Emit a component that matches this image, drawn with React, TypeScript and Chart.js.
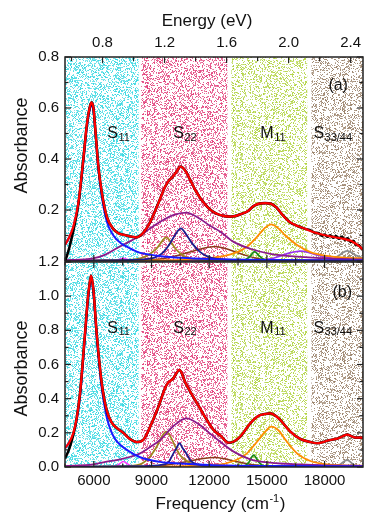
import React, { useEffect, useRef } from "react";
import { Chart, registerables } from "chart.js";
Chart.register(...registerables);

const FONT = '"Liberation Sans", Arial, Helvetica, sans-serif';

// ---------- axes ----------
const FREQ_MIN = 4500;
const FREQ_MAX = 20000;
const CM_PER_EV = 8065.54;
const freqTickLabels = [6000, 9000, 12000, 15000, 18000];
const energyTickLabels = [0.8, 1.2, 1.6, 2.0, 2.4];
const absTickLabelsA = [0.2, 0.4, 0.6, 0.8];
const absTickLabelsB = [0.0, 0.2, 0.4, 0.6, 0.8, 1.0, 1.2];

// ---------- spectral regions ----------
const regionFrom = [4500, 8460, 13150, 17320];
const regionTo = [8330, 12950, 17100, 20000];
const regionMain = ["S", "S", "M", "S"];
const regionSub = ["11", "22", "11", "33/44"];
const regionLabelFreq = [6700, 10130, 14660, 17420];

// ---------- panel (a) ----------
const aFitF = [4500, 4700, 4935, 5200, 5455, 5630, 5780, 5880, 5980, 6063, 6236, 6412, 6673, 7017, 7300, 7600, 7900, 8200, 8500, 8800, 9100, 9400, 9700, 9900, 10100, 10300, 10500, 10700, 11000, 11300, 11600, 12000, 12400, 12800, 13100, 13400, 13700, 14000, 14300, 14600, 14900, 15200, 15500, 15800, 16200, 16600, 17000, 17400, 17800, 18200, 18600, 19000, 19400, 19800, 20000];
const aFitA = [0.063, 0.09, 0.135, 0.23, 0.40, 0.53, 0.60, 0.622, 0.60, 0.53, 0.37, 0.27, 0.174, 0.125, 0.108, 0.102, 0.096, 0.093, 0.105, 0.135, 0.18, 0.235, 0.29, 0.315, 0.33, 0.35, 0.37, 0.36, 0.32, 0.275, 0.24, 0.205, 0.185, 0.176, 0.174, 0.177, 0.185, 0.195, 0.215, 0.225, 0.227, 0.225, 0.21, 0.182, 0.152, 0.137, 0.126, 0.114, 0.105, 0.098, 0.092, 0.087, 0.078, 0.058, 0.045];
const aMeasF = [4500, 4600, 4750, 4935, 5200, 5455, 5630, 5780, 5880, 5980, 6063, 6236, 6412, 6673, 7017, 7300, 7600, 7900, 8200, 8500, 8800, 9100, 9400, 9700, 9900, 10100, 10300, 10500, 10700, 11000, 11300, 11600, 12000, 12400, 12800, 13100, 13400, 13700, 14000, 14300, 14600, 14900, 15200, 15500, 15800, 16200, 16600, 17000, 17300, 17500, 17700, 17850, 18000, 18150, 18300, 18450, 18600, 18750, 18900, 19050, 19200, 19350, 19500, 19650, 19800, 19900, 20000];
const aMeasA = [0.0, 0.02, 0.06, 0.12, 0.225, 0.40, 0.53, 0.60, 0.622, 0.60, 0.53, 0.37, 0.27, 0.174, 0.125, 0.108, 0.102, 0.096, 0.093, 0.105, 0.135, 0.18, 0.235, 0.29, 0.315, 0.33, 0.35, 0.37, 0.36, 0.32, 0.275, 0.24, 0.205, 0.185, 0.176, 0.174, 0.177, 0.185, 0.195, 0.215, 0.225, 0.227, 0.225, 0.21, 0.182, 0.152, 0.137, 0.126, 0.119, 0.111, 0.109, 0.099, 0.104, 0.095, 0.101, 0.091, 0.098, 0.087, 0.095, 0.084, 0.089, 0.075, 0.079, 0.063, 0.062, 0.05, 0.045];
const aS11F = [4500, 4700, 4935, 5200, 5455, 5630, 5780, 5880, 5980, 6063, 6236, 6412, 6673, 7017, 7400, 7713, 8000, 8408, 9000, 9500, 10500, 12000, 14000, 17000, 20000];
const aS11A = [0.063, 0.09, 0.133, 0.225, 0.39, 0.52, 0.59, 0.612, 0.59, 0.52, 0.36, 0.255, 0.155, 0.10, 0.07, 0.056, 0.045, 0.032, 0.024, 0.019, 0.013, 0.008, 0.005, 0.003, 0.002];
const aBroadF = [4500, 5960, 6600, 7190, 7800, 8408, 8900, 9450, 10127, 10800, 11534, 12000, 12575, 13270, 14140, 15180, 16743, 18000, 20000];
const aBroadA = [0.003, 0.01, 0.025, 0.05, 0.074, 0.10, 0.126, 0.154, 0.18, 0.19, 0.165, 0.14, 0.115, 0.075, 0.048, 0.028, 0.016, 0.01, 0.006];
const aNarrowF = [4500, 8000, 9000, 9300, 9620, 9970, 10250, 10527, 10800, 11100, 11534, 12000, 12800, 14000, 20000];
const aNarrowA = [0.002, 0.004, 0.01, 0.018, 0.035, 0.07, 0.105, 0.128, 0.105, 0.07, 0.035, 0.015, 0.006, 0.003, 0.001];
const aOliveF = [4500, 7500, 8400, 8756, 9050, 9277, 9520, 9762, 10000, 10231, 10450, 10665, 11100, 12000, 20000];
const aOliveA = [0.001, 0.003, 0.01, 0.02, 0.035, 0.05, 0.075, 0.093, 0.075, 0.05, 0.033, 0.02, 0.008, 0.003, 0.001];
const aMagF = [4500, 6500, 7100, 7350, 7540, 7750, 8000, 8500, 20000];
const aMagA = [0.002, 0.002, 0.003, 0.007, 0.011, 0.006, 0.003, 0.002, 0.002];
const aBrownF = [4500, 9000, 10000, 11000, 11700, 12300, 12800, 13300, 13900, 14500, 15200, 16000, 20000];
const aBrownA = [0.001, 0.005, 0.015, 0.035, 0.05, 0.057, 0.05, 0.037, 0.022, 0.01, 0.004, 0.002, 0.001];
const aM11F = [4500, 9000, 11000, 12400, 13270, 13965, 14487, 14900, 15233, 15600, 15960, 16570, 17265, 18130, 19000, 20000];
const aM11A = [0.001, 0.002, 0.005, 0.015, 0.03, 0.056, 0.095, 0.13, 0.144, 0.128, 0.10, 0.063, 0.035, 0.02, 0.013, 0.01];
const aGreenF = [12000, 13500, 13850, 14100, 14363, 14600, 14850, 15200, 17000];
const aGreenA = [0.001, 0.001, 0.004, 0.016, 0.037, 0.02, 0.006, 0.001, 0.001];
const aVioletF = [12000, 14500, 15200, 15700, 16200, 16743, 17200, 17612, 18300, 19000, 20000];
const aVioletA = [0.001, 0.002, 0.008, 0.02, 0.032, 0.039, 0.033, 0.024, 0.012, 0.005, 0.003];
const aPinkF = [16000, 17400, 17750, 18046, 18350, 18700, 20000];
const aPinkA = [0.001, 0.001, 0.006, 0.017, 0.006, 0.001, 0.001];
const aGrayF = [17000, 18300, 18720, 19175, 19700, 20000];
const aGrayA = [0.001, 0.002, 0.02, 0.04, 0.02, 0.012];

// ---------- panel (b) ----------
const bFitF = [4500, 4700, 4935, 5100, 5280, 5540, 5700, 5765, 5855, 5976, 6150, 6412, 6673, 6933, 7194, 7537, 7886, 8235, 8580, 8929, 9360, 9780, 10140, 10455, 10776, 11360, 11880, 12226, 12575, 13010, 13300, 13617, 14138, 14571, 14900, 15180, 15450, 15700, 16220, 16743, 17265, 17612, 17900, 18133, 18654, 18950, 19175, 19400, 19609, 20000];
const bFitA = [0.11, 0.14, 0.20, 0.28, 0.43, 0.78, 1.0, 1.06, 1.12, 1.04, 0.78, 0.49, 0.33, 0.26, 0.228, 0.20, 0.163, 0.146, 0.16, 0.236, 0.353, 0.48, 0.52, 0.568, 0.49, 0.375, 0.275, 0.217, 0.185, 0.142, 0.15, 0.178, 0.256, 0.30, 0.31, 0.314, 0.30, 0.275, 0.207, 0.164, 0.146, 0.139, 0.145, 0.154, 0.166, 0.18, 0.19, 0.18, 0.172, 0.172];
const bMeasA = [0.05, 0.10, 0.19, 0.28, 0.43, 0.78, 1.0, 1.06, 1.12, 1.04, 0.78, 0.49, 0.33, 0.26, 0.228, 0.20, 0.163, 0.146, 0.16, 0.236, 0.353, 0.48, 0.52, 0.568, 0.49, 0.375, 0.275, 0.217, 0.185, 0.142, 0.15, 0.178, 0.256, 0.30, 0.31, 0.314, 0.30, 0.275, 0.207, 0.164, 0.146, 0.139, 0.145, 0.154, 0.166, 0.18, 0.19, 0.18, 0.172, 0.172];
const bS11F = [4500, 4700, 4935, 5100, 5280, 5540, 5700, 5765, 5855, 5976, 6150, 6412, 6673, 6933, 7194, 7713, 8408, 9450, 10500, 12000, 15000, 20000];
const bS11A = [0.11, 0.14, 0.195, 0.27, 0.41, 0.76, 0.98, 1.04, 1.105, 1.02, 0.76, 0.46, 0.29, 0.2, 0.15, 0.10, 0.057, 0.03, 0.02, 0.012, 0.006, 0.003];
const bBroadF = [4500, 5960, 6600, 7366, 7900, 8408, 8900, 9450, 10140, 10804, 11534, 12000, 12575, 13270, 14140, 15180, 16743, 18000, 20000];
const bBroadA = [0.005, 0.015, 0.03, 0.045, 0.06, 0.08, 0.115, 0.158, 0.24, 0.285, 0.245, 0.2, 0.148, 0.09, 0.045, 0.025, 0.015, 0.01, 0.006];
const bNarrowF = [4500, 8500, 9500, 9900, 10140, 10300, 10455, 10620, 10804, 11050, 11400, 12000, 20000];
const bNarrowA = [0.002, 0.005, 0.012, 0.03, 0.08, 0.11, 0.139, 0.11, 0.08, 0.035, 0.015, 0.006, 0.002];
const bOliveF = [4500, 7500, 8400, 8842, 9050, 9277, 9520, 9762, 10000, 10231, 10450, 10665, 11100, 12000, 20000];
const bOliveA = [0.002, 0.005, 0.015, 0.05, 0.08, 0.12, 0.175, 0.207, 0.175, 0.12, 0.075, 0.05, 0.018, 0.005, 0.002];
const bMagF = [4500, 6500, 7100, 7350, 7540, 7750, 8000, 8500, 20000];
const bMagA = [0.002, 0.002, 0.005, 0.02, 0.032, 0.018, 0.005, 0.002, 0.002];
const bBrownF = [4500, 9000, 10000, 11000, 11700, 12300, 12800, 13300, 13900, 14500, 15200, 16000, 20000];
const bBrownA = [0.001, 0.005, 0.015, 0.035, 0.05, 0.055, 0.048, 0.035, 0.02, 0.01, 0.004, 0.002, 0.001];
const bM11F = [4500, 9000, 11000, 12400, 13270, 13965, 14487, 14900, 15233, 15600, 15960, 16570, 17265, 18130, 19000, 20000];
const bM11A = [0.001, 0.002, 0.006, 0.012, 0.035, 0.08, 0.148, 0.205, 0.236, 0.215, 0.16, 0.08, 0.035, 0.015, 0.01, 0.008];
const bGreenF = [12000, 13500, 13800, 14050, 14310, 14570, 14800, 15200, 17000];
const bGreenA = [0.001, 0.001, 0.005, 0.025, 0.07, 0.03, 0.008, 0.001, 0.001];
const bVioletF = [12000, 14500, 15500, 16500, 17200, 18000, 19000, 20000];
const bVioletA = [0.001, 0.002, 0.006, 0.012, 0.012, 0.008, 0.004, 0.003];
const bPinkF = [16000, 17600, 17900, 18100, 18300, 18600, 20000];
const bPinkA = [0.001, 0.001, 0.004, 0.01, 0.004, 0.001, 0.001];
const bGrayF = [17000, 18500, 18800, 19175, 19500, 19800, 20000];
const bGrayA = [0.001, 0.001, 0.015, 0.041, 0.015, 0.003, 0.001];

// ---------- styles ----------
const C = {
  fit: "#ff0000", meas: "#000000", s11: "#1a1aff", broad: "#8b1a8b", narrow: "#1c1c8c",
  olive: "#a08420", mag: "#ff33ff", brown: "#8b3a1a", m11: "#ff8c00", green: "#1a8a1a",
  violet: "#9933ee", pink: "#ff1a8c", gray: "#8c8c8c",
};
const bandStyle = [
  { rgb: [50, 215, 225], density: 0.38, seed: 11 },
  { rgb: [225, 60, 120], density: 0.35, seed: 23 },
  { rgb: [175, 210, 60], density: 0.31, seed: 37 },
  { rgb: [150, 125, 100], density: 0.31, seed: 51 },
];

function ds(f: number[], a: number[], color: string, width: number) {
  return {
    data: f.map((x, i) => ({ x, y: a[i] })),
    borderColor: color,
    borderWidth: width,
    pointRadius: 0,
    fill: false,
    cubicInterpolationMode: "monotone" as const,
    xAxisID: "x",
    yAxisID: "y",
  };
}

function makeSpeckle(ctx: CanvasRenderingContext2D, rgb: number[], density: number, seed: number) {
  const n = 128;
  const c = document.createElement("canvas");
  c.width = n; c.height = n;
  const g = c.getContext("2d")!;
  const img = g.createImageData(n, n);
  let s = seed >>> 0;
  for (let i = 0; i < n * n; i++) {
    s = (Math.imul(s, 1664525) + 1013904223) >>> 0;
    const r = s / 4294967296;
    const k = i * 4;
    if (r < density) {
      const t = 0.55 + 0.45 * ((s >>> 8) & 255) / 255;
      img.data[k] = Math.round(255 - (255 - rgb[0]) * t);
      img.data[k + 1] = Math.round(255 - (255 - rgb[1]) * t);
      img.data[k + 2] = Math.round(255 - (255 - rgb[2]) * t);
    } else {
      img.data[k] = 255; img.data[k + 1] = 255; img.data[k + 2] = 255;
    }
    img.data[k + 3] = 255;
  }
  g.putImageData(img, 0, 0);
  return ctx.createPattern(c, "repeat")!;
}

type PanelCfg = { panel: "a" | "b"; tag: string; tagF: number; tagA: number; labelA: number; offsetY: number };

function panelPlugin(cfg: PanelCfg) {
  let patterns: CanvasPattern[] | null = null;
  const line = (ctx: CanvasRenderingContext2D, x0: number, y0: number, x1: number, y1: number) => {
    ctx.beginPath(); ctx.moveTo(x0, y0); ctx.lineTo(x1, y1); ctx.stroke();
  };
  return {
    id: "panelDecor" + cfg.panel,
    beforeDatasetsDraw(chart: any) {
      const { ctx, chartArea: ca, scales } = chart;
      if (!patterns) patterns = bandStyle.map((b) => makeSpeckle(ctx, b.rgb, b.density, b.seed));
      ctx.save();
      ctx.fillStyle = "#fff";
      ctx.fillRect(ca.left, ca.top, ca.width, ca.height);
      regionFrom.forEach((f0, i) => {
        const x0 = scales.x.getPixelForValue(f0);
        const x1 = scales.x.getPixelForValue(regionTo[i]);
        ctx.fillStyle = patterns![i];
        ctx.fillRect(x0, ca.top, x1 - x0, ca.height);
      });
      ctx.restore();
    },
    afterDatasetsDraw(chart: any) {
      const { ctx, chartArea: ca, scales } = chart;
      const xs = scales.x, ys = scales.y;
      ctx.save();
      ctx.strokeStyle = "#222";
      ctx.lineWidth = 1.2;
      for (let f = FREQ_MIN; f <= FREQ_MAX; f += 1500) {
        const px = xs.getPixelForValue(f);
        const len = f % 3000 === 0 ? 6 : 3.5;
        line(ctx, px, ca.bottom, px, ca.bottom - len);
        if (cfg.panel === "b") line(ctx, px, ca.top, px, ca.top + len);
      }
      if (cfg.panel === "a") {
        const et = scales.xTop;
        for (let k = 3; k <= 12; k++) {
          const e = k * 0.2;
          const px = et.getPixelForValue(e);
          line(ctx, px, ca.top, px, ca.top + (k % 2 === 0 ? 6 : 4));
        }
      }
      const maxTick = Math.round(ys.max * 10);
      for (let k = 0; k <= maxTick; k++) {
        const py = ys.getPixelForValue(k / 10);
        const len = k % 2 === 0 ? 6 : 3.5;
        line(ctx, ca.left, py, ca.left + len, py);
        line(ctx, ca.right, py, ca.right - len, py);
      }
      ctx.lineWidth = 1.5;
      ctx.strokeRect(ca.left, ca.top, ca.width, ca.height);

      // region labels
      ctx.fillStyle = "#111";
      ctx.textBaseline = "alphabetic";
      ctx.textAlign = "left";
      regionMain.forEach((m, i) => {
        const x = xs.getPixelForValue(regionLabelFreq[i]);
        const y = ys.getPixelForValue(cfg.labelA);
        ctx.font = `16px ${FONT}`;
        ctx.fillText(m, x, y);
        const w = ctx.measureText(m).width;
        ctx.font = `11px ${FONT}`;
        ctx.fillText(regionSub[i], x + w + 0.5, y + 2.5);
      });
      ctx.font = `16px ${FONT}`;
      ctx.fillText(cfg.tag, xs.getPixelForValue(cfg.tagF), ys.getPixelForValue(cfg.tagA));
      ctx.restore();
    },
    afterDraw(chart: any) {
      const { ctx } = chart;
      ctx.save();
      ctx.fillStyle = "#111";
      ctx.font = `18px ${FONT}`;
      ctx.textAlign = "center";
      ctx.textBaseline = "middle";
      const absY = cfg.panel === "a" ? 145.5 : 368.5 - cfg.offsetY;
      ctx.translate(22, absY);
      ctx.rotate(-Math.PI / 2);
      ctx.fillText("Absorbance", 0, 0);
      ctx.restore();
      ctx.save();
      ctx.fillStyle = "#111";
      ctx.textBaseline = "alphabetic";
      if (cfg.panel === "a") {
        ctx.font = `17px ${FONT}`;
        ctx.textAlign = "center";
        ctx.fillText("Energy (eV)", 207, 25.5);
      } else {
        ctx.textAlign = "left";
        ctx.font = `17px ${FONT}`;
        const w1 = ctx.measureText("Frequency (cm").width;
        const w3 = ctx.measureText(")").width;
        ctx.font = `11px ${FONT}`;
        const w2 = ctx.measureText("-1").width;
        const x0 = 220 - (w1 + w2 + w3) / 2;
        const by = 509 - cfg.offsetY;
        ctx.font = `17px ${FONT}`;
        ctx.fillText("Frequency (cm", x0, by);
        ctx.font = `11px ${FONT}`;
        ctx.fillText("-1", x0 + w1 + 0.5, by - 7);
        ctx.font = `17px ${FONT}`;
        ctx.fillText(")", x0 + w1 + w2 + 1, by);
      }
      ctx.restore();
    },
  };
}

const tickFont = { family: FONT, size: 15 };

function makeConfig(panel: "a" | "b") {
  const isA = panel === "a";
  const W = 1.8;
  const datasets = isA
    ? [
        ds(aFitF, aFitA, C.fit, 2.2), ds(aMeasF, aMeasA, C.meas, 2.6), ds(aS11F, aS11A, C.s11, 2),
        ds(aBroadF, aBroadA, C.broad, W), ds(aNarrowF, aNarrowA, C.narrow, W), ds(aOliveF, aOliveA, C.olive, W),
        ds(aM11F, aM11A, C.m11, W), ds(aGreenF, aGreenA, C.green, W), ds(aVioletF, aVioletA, C.violet, W),
        ds(aBrownF, aBrownA, C.brown, 1.5), ds(aMagF, aMagA, C.mag, 1.5), ds(aPinkF, aPinkA, C.pink, W),
        ds(aGrayF, aGrayA, C.gray, W),
      ]
    : [
        ds(bFitF, bFitA, C.fit, 2.2), ds(bFitF, bMeasA, C.meas, 2.6), ds(bS11F, bS11A, C.s11, 2),
        ds(bBroadF, bBroadA, C.broad, W), ds(bNarrowF, bNarrowA, C.narrow, W), ds(bOliveF, bOliveA, C.olive, W),
        ds(bM11F, bM11A, C.m11, W), ds(bGreenF, bGreenA, C.green, W), ds(bVioletF, bVioletA, C.violet, W),
        ds(bBrownF, bBrownA, C.brown, 1.5), ds(bMagF, bMagA, C.mag, 1.5), ds(bPinkF, bPinkA, C.pink, W),
        ds(bGrayF, bGrayA, C.gray, W),
      ];
  const noGrid = { display: false, drawTicks: false };
  const noBorder = { display: false };
  const scales: any = {
    x: {
      type: "linear",
      position: "bottom",
      min: FREQ_MIN,
      max: FREQ_MAX,
      grid: noGrid,
      border: noBorder,
      afterBuildTicks: (s: any) => { s.ticks = freqTickLabels.map((v) => ({ value: v })); },
      ticks: { display: !isA, autoSkip: false, maxRotation: 0, padding: 5, color: "#111", font: tickFont, callback: (v: any) => String(v) },
      afterFit: (s: any) => { s.height = isA ? 0 : 58; s.paddingLeft = 0; s.paddingRight = 0; },
    },
    y: {
      type: "linear",
      position: "left",
      min: 0,
      max: isA ? 0.8 : 1.2,
      grid: noGrid,
      border: noBorder,
      afterBuildTicks: (s: any) => { s.ticks = (isA ? absTickLabelsA : absTickLabelsB).map((v) => ({ value: v })); },
      ticks: { autoSkip: false, padding: 6, color: "#111", font: tickFont, callback: (v: any) => Number(v).toFixed(1) },
      afterFit: (s: any) => { s.width = 65; s.paddingTop = 0; s.paddingBottom = 0; },
    },
  };
  if (isA) {
    scales.xTop = {
      type: "linear",
      position: "top",
      min: FREQ_MIN / CM_PER_EV,
      max: FREQ_MAX / CM_PER_EV,
      grid: noGrid,
      border: noBorder,
      afterBuildTicks: (s: any) => { s.ticks = energyTickLabels.map((v) => ({ value: v })); },
      ticks: { autoSkip: false, maxRotation: 0, padding: 5, color: "#111", font: tickFont, callback: (v: any) => Number(v).toFixed(1) },
      afterFit: (s: any) => { s.height = 57; s.paddingLeft = 0; s.paddingRight = 0; },
    };
  }
  const cfg: PanelCfg = isA
    ? { panel: "a", tag: "(a)", tagF: 18200, tagA: 0.671, labelA: 0.482, offsetY: 0 }
    : { panel: "b", tag: "(b)", tagF: 18410, tagA: 0.995, labelA: 0.785, offsetY: 250 };
  return {
    type: "line" as const,
    data: { datasets },
    options: {
      animation: false as const,
      responsive: false,
      devicePixelRatio: 1,
      layout: { padding: isA ? { left: 0, right: 11, top: 0, bottom: 1 } : { left: 0, right: 11, top: 12, bottom: 0 } },
      plugins: { legend: { display: false }, tooltip: { enabled: false } },
      scales,
    },
    plugins: [panelPlugin(cfg)],
  };
}

export default function App() {
  const refA = useRef<HTMLCanvasElement>(null);
  const refB = useRef<HTMLCanvasElement>(null);
  useEffect(() => {
    Chart.defaults.font.family = FONT;
    const ca = new Chart(refA.current!, makeConfig("a") as any);
    const cb = new Chart(refB.current!, makeConfig("b") as any);
    return () => { ca.destroy(); cb.destroy(); };
  }, []);
  return (
    <div style={{ position: "absolute", left: 0, top: 0, width: 374, height: 525, background: "#fff" }}>
      <canvas ref={refA} width={374} height={262} style={{ position: "absolute", left: 0, top: 0 }} />
      <canvas ref={refB} width={374} height={275} style={{ position: "absolute", left: 0, top: 250 }} />
    </div>
  );
}
